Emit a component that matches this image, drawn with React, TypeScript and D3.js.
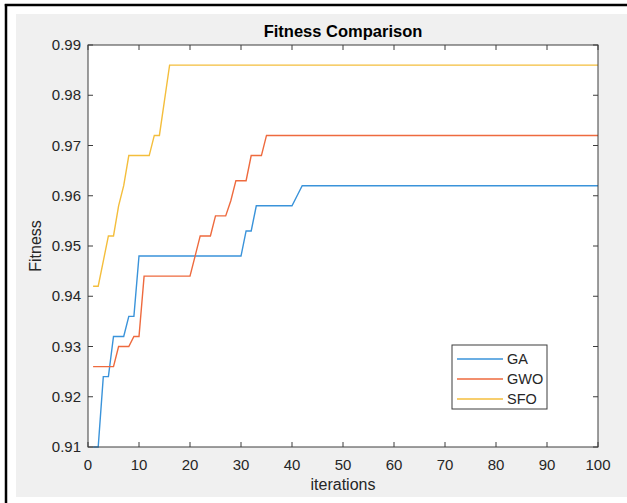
import React, { useEffect, useRef } from "react";
import * as d3 from "d3";

// iteration index 1..100
const iterations: number[] = d3.range(1, 101);

const gaFitness: number[] = [
  0.910, 0.910, 0.924, 0.924, 0.932, 0.932, 0.932, 0.936, 0.936, 0.948,
  0.948, 0.948, 0.948, 0.948, 0.948, 0.948, 0.948, 0.948, 0.948, 0.948,
  0.948, 0.948, 0.948, 0.948, 0.948, 0.948, 0.948, 0.948, 0.948, 0.948,
  0.953, 0.953, 0.958, 0.958, 0.958, 0.958, 0.958, 0.958, 0.958, 0.958,
  0.960, 0.962, 0.962, 0.962, 0.962, 0.962, 0.962, 0.962, 0.962, 0.962,
  0.962, 0.962, 0.962, 0.962, 0.962, 0.962, 0.962, 0.962, 0.962, 0.962,
  0.962, 0.962, 0.962, 0.962, 0.962, 0.962, 0.962, 0.962, 0.962, 0.962,
  0.962, 0.962, 0.962, 0.962, 0.962, 0.962, 0.962, 0.962, 0.962, 0.962,
  0.962, 0.962, 0.962, 0.962, 0.962, 0.962, 0.962, 0.962, 0.962, 0.962,
  0.962, 0.962, 0.962, 0.962, 0.962, 0.962, 0.962, 0.962, 0.962, 0.962,
];

const gwoFitness: number[] = [
  0.926, 0.926, 0.926, 0.926, 0.926, 0.930, 0.930, 0.930, 0.932, 0.932,
  0.944, 0.944, 0.944, 0.944, 0.944, 0.944, 0.944, 0.944, 0.944, 0.944,
  0.948, 0.952, 0.952, 0.952, 0.956, 0.956, 0.956, 0.959, 0.963, 0.963,
  0.963, 0.968, 0.968, 0.968, 0.972, 0.972, 0.972, 0.972, 0.972, 0.972,
  0.972, 0.972, 0.972, 0.972, 0.972, 0.972, 0.972, 0.972, 0.972, 0.972,
  0.972, 0.972, 0.972, 0.972, 0.972, 0.972, 0.972, 0.972, 0.972, 0.972,
  0.972, 0.972, 0.972, 0.972, 0.972, 0.972, 0.972, 0.972, 0.972, 0.972,
  0.972, 0.972, 0.972, 0.972, 0.972, 0.972, 0.972, 0.972, 0.972, 0.972,
  0.972, 0.972, 0.972, 0.972, 0.972, 0.972, 0.972, 0.972, 0.972, 0.972,
  0.972, 0.972, 0.972, 0.972, 0.972, 0.972, 0.972, 0.972, 0.972, 0.972,
];

const sfoFitness: number[] = [
  0.942, 0.942, 0.947, 0.952, 0.952, 0.958, 0.962, 0.968, 0.968, 0.968,
  0.968, 0.968, 0.972, 0.972, 0.979, 0.986, 0.986, 0.986, 0.986, 0.986,
  0.986, 0.986, 0.986, 0.986, 0.986, 0.986, 0.986, 0.986, 0.986, 0.986,
  0.986, 0.986, 0.986, 0.986, 0.986, 0.986, 0.986, 0.986, 0.986, 0.986,
  0.986, 0.986, 0.986, 0.986, 0.986, 0.986, 0.986, 0.986, 0.986, 0.986,
  0.986, 0.986, 0.986, 0.986, 0.986, 0.986, 0.986, 0.986, 0.986, 0.986,
  0.986, 0.986, 0.986, 0.986, 0.986, 0.986, 0.986, 0.986, 0.986, 0.986,
  0.986, 0.986, 0.986, 0.986, 0.986, 0.986, 0.986, 0.986, 0.986, 0.986,
  0.986, 0.986, 0.986, 0.986, 0.986, 0.986, 0.986, 0.986, 0.986, 0.986,
  0.986, 0.986, 0.986, 0.986, 0.986, 0.986, 0.986, 0.986, 0.986, 0.986,
];

const seriesNames: string[] = ["GA", "GWO", "SFO"];
const seriesColors: string[] = ["#3a93da", "#ee6a3e", "#f4be3c"];
const xTicks: number[] = [0, 10, 20, 30, 40, 50, 60, 70, 80, 90, 100];
const yTicks: number[] = [0.91, 0.92, 0.93, 0.94, 0.95, 0.96, 0.97, 0.98, 0.99];

const W = 627;
const H = 503;
const FONT = "'Liberation Sans', Arial, Helvetica, sans-serif";

const App = () => {
  const svgRef = useRef<SVGSVGElement>(null);

  useEffect(() => {
    const root = d3.select(svgRef.current);
    root.selectAll("*").remove();
    root.attr("width", W).attr("height", H);

    // figure frame
    root.append("rect").attr("width", W).attr("height", H).attr("fill", "#ffffff");
    root.append("rect").attr("x", 16).attr("y", 14).attr("width", W - 16).attr("height", 483).attr("fill", "#f0f0f0");
    root.append("line").attr("x1", 6).attr("x2", 6).attr("y1", 4).attr("y2", H).attr("stroke", "#000").attr("stroke-width", 2.5);
    root.append("line").attr("x1", 4.8).attr("x2", W).attr("y1", 5).attr("y2", 5).attr("stroke", "#000").attr("stroke-width", 2.5);

    const left = 88, right = 598, top = 45, bottom = 447;
    const x = d3.scaleLinear().domain([0, 100]).range([left, right]);
    const y = d3.scaleLinear().domain([0.91, 0.99]).range([bottom, top]);

    root.append("rect").attr("x", left).attr("y", top).attr("width", right - left).attr("height", bottom - top).attr("fill", "#ffffff");

    // lines
    root.append("clipPath").attr("id", "plotclip")
      .append("rect").attr("x", left).attr("y", top - 1).attr("width", right - left).attr("height", bottom - top + 2);

    const allSeries = [gaFitness, gwoFitness, sfoFitness];
    const line = d3.line<number>()
      .x((_, i) => x(iterations[i]))
      .y((d) => y(d));

    allSeries.forEach((vals, k) => {
      root.append("path")
        .attr("d", line(vals))
        .attr("fill", "none")
        .attr("stroke", seriesColors[k])
        .attr("stroke-width", 1.4)
        .attr("clip-path", "url(#plotclip)");
    });

    // axes (box with inward ticks)
    const axisColor = "#3c3c3c";
    const g = root.append("g").attr("stroke", axisColor).attr("stroke-width", 1);
    g.append("rect").attr("x", left).attr("y", top).attr("width", right - left).attr("height", bottom - top).attr("fill", "none");
    xTicks.forEach((t) => {
      g.append("line").attr("x1", x(t)).attr("x2", x(t)).attr("y1", bottom).attr("y2", bottom - 5);
      g.append("line").attr("x1", x(t)).attr("x2", x(t)).attr("y1", top).attr("y2", top + 5);
    });
    yTicks.forEach((t) => {
      g.append("line").attr("x1", left).attr("x2", left + 5).attr("y1", y(t)).attr("y2", y(t));
      g.append("line").attr("x1", right).attr("x2", right - 5).attr("y1", y(t)).attr("y2", y(t));
    });

    const txt = root.append("g").attr("font-family", FONT).attr("fill", "#262626");
    txt.selectAll(".xt").data(xTicks).enter().append("text")
      .attr("x", (d) => x(d)).attr("y", bottom + 23)
      .attr("text-anchor", "middle").attr("font-size", 15)
      .text((d) => d3.format("d")(d));
    txt.selectAll(".yt").data(yTicks).enter().append("text")
      .attr("x", left - 7).attr("y", (d) => y(d) + 5)
      .attr("text-anchor", "end").attr("font-size", 15)
      .text((d) => d3.format(".2f")(d));

    txt.append("text").attr("x", (left + right) / 2).attr("y", 490)
      .attr("text-anchor", "middle").attr("font-size", 16).text("iterations");
    txt.append("text")
      .attr("transform", `translate(41, ${(top + bottom) / 2}) rotate(-90)`)
      .attr("text-anchor", "middle").attr("font-size", 16).text("Fitness");
    txt.append("text").attr("x", (left + right) / 2).attr("y", 37)
      .attr("text-anchor", "middle").attr("font-size", 16.5).attr("font-weight", "bold")
      .attr("fill", "#000").text("Fitness Comparison");

    // legend
    const lg = root.append("g").attr("transform", "translate(452, 345)");
    lg.append("rect").attr("width", 95).attr("height", 64).attr("fill", "#fff").attr("stroke", axisColor).attr("stroke-width", 1);
    seriesNames.forEach((name, k) => {
      const ly = 14 + k * 20;
      lg.append("line").attr("x1", 5).attr("x2", 51).attr("y1", ly).attr("y2", ly)
        .attr("stroke", seriesColors[k]).attr("stroke-width", 1.4);
      lg.append("text").attr("x", 55).attr("y", ly + 5).attr("font-family", FONT)
        .attr("font-size", 14.5).attr("fill", "#262626").text(name);
    });
  }, []);

  return <svg ref={svgRef} style={{ position: "absolute", left: 0, top: 0 }}></svg>;
};

export default App;
